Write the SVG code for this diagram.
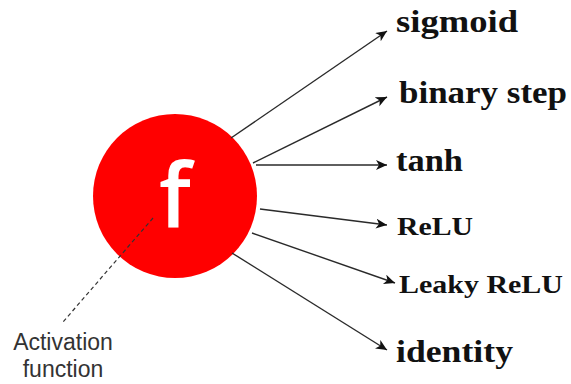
<svg xmlns="http://www.w3.org/2000/svg" width="571" height="384" viewBox="0 0 571 384">
<style>
.lbl{font-family:"Liberation Serif","Times New Roman",serif;font-weight:bold;fill:#111;}
.big{font-size:32px;}
.small{font-size:25px;}
.edge{stroke:#2a2a2a;stroke-width:1.4;fill:none;marker-end:url(#arr);}
.note{font-family:"Liberation Sans",Arial,sans-serif;font-size:23px;fill:#333;text-anchor:middle;}
</style>
<defs>
<marker id="arr" markerUnits="userSpaceOnUse" markerWidth="14" markerHeight="12" refX="11" refY="5" orient="auto">
<path d="M0,0 L11,5 L0,10 L3,5 z" fill="#111"/>
</marker>
</defs>
<g id="node-f">
<circle cx="175" cy="196" r="82" fill="#ff0000"/>
<text x="175" y="227" font-family="'Open Sans','Noto Sans',sans-serif" font-weight="600" font-size="88" fill="#ffffff" text-anchor="middle">f</text>
</g>
<g id="connectors">
<line class="edge" x1="231" y1="138" x2="387" y2="31"/>
<line class="edge" x1="253" y1="163" x2="387" y2="97"/>
<line class="edge" x1="256" y1="165" x2="387" y2="165"/>
<line class="edge" x1="260" y1="209" x2="387" y2="225"/>
<line class="edge" x1="252" y1="233" x2="395" y2="283"/>
<line class="edge" x1="232" y1="253" x2="387" y2="350"/>
<line x1="153" y1="218" x2="63" y2="322" stroke="#333" stroke-width="1.2" stroke-dasharray="4,3"/>
</g>
<g id="node-sigmoid"><text class="lbl big" x="396" y="32" textLength="122" lengthAdjust="spacingAndGlyphs">sigmoid</text></g>
<g id="node-binary-step"><text class="lbl big" x="399" y="103" textLength="168" lengthAdjust="spacingAndGlyphs">binary step</text></g>
<g id="node-tanh"><text class="lbl big" x="396" y="171" textLength="67" lengthAdjust="spacingAndGlyphs">tanh</text></g>
<g id="node-relu"><text class="lbl small" x="397" y="235" textLength="76" lengthAdjust="spacingAndGlyphs">ReLU</text></g>
<g id="node-leaky-relu"><text class="lbl small" x="399" y="293" textLength="164" lengthAdjust="spacingAndGlyphs">Leaky ReLU</text></g>
<g id="node-identity"><text class="lbl big" x="396" y="362" textLength="117" lengthAdjust="spacingAndGlyphs">identity</text></g>
<g id="note-activation">
<text class="note" x="63" y="350">Activation</text>
<text class="note" x="63" y="377">function</text>
</g>
</svg>
